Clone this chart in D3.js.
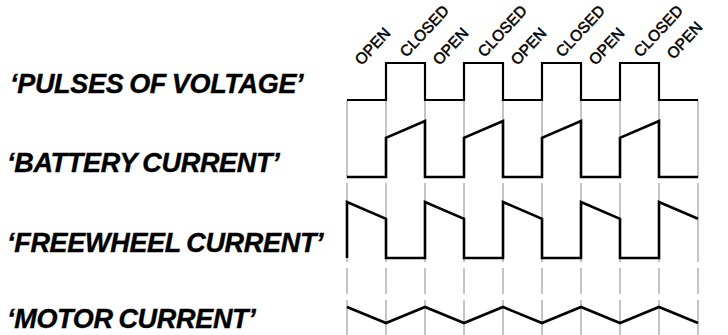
<!DOCTYPE html>
<html>
<head>
<meta charset="utf-8">
<script src="https://cdn.jsdelivr.net/npm/d3@7"></script>
<style>
  body { margin: 0; background: #fff; }
  svg { display: block; }
  .rowlabel { font-family: "Liberation Sans", Arial, sans-serif; font-weight: bold; font-style: italic; font-size: 27px; letter-spacing: -0.3px; word-spacing: -1.5px; fill: #000; stroke: #000; stroke-width: 0.4px; }
  .phase { font-family: "Liberation Sans", Arial, sans-serif; font-size: 15.5px; fill: #000; stroke: #000; stroke-width: 0.5px; }
</style>
</head>
<body>
<svg id="chart" width="728" height="335"></svg>
<script>
// phases of the switch
const phases = ["OPEN", "CLOSED", "OPEN", "CLOSED", "OPEN", "CLOSED", "OPEN", "CLOSED", "OPEN"];
const rowLabels = ["‘PULSES OF VOLTAGE’", "‘BATTERY CURRENT’", "‘FREEWHEEL CURRENT’", "‘MOTOR CURRENT’"];

// waveforms : [time, value]
const voltage = [[0,0],[1,0],[1,1],[2,1],[2,0],[3,0],[3,1],[4,1],[4,0],[5,0],[5,1],[6,1],[6,0],[7,0],[7,1],[8,1],[8,0],[9,0]];
const battery = [[0,0],[1,0],[1,0.7],[2,1],[2,0],[3,0],[3,0.7],[4,1],[4,0],[5,0],[5,0.7],[6,1],[6,0],[7,0],[7,0.7],[8,1],[8,0],[9,0]];
const freewheel = [[0,0],[0,1],[1,0.7],[1,0],[2,0],[2,1],[3,0.7],[3,0],[4,0],[4,1],[5,0.7],[5,0],[6,0],[6,1],[7,0.7],[7,0],[8,0],[8,1],[9,0.7]];
const motor = [[0,0.75],[1,0.25],[2,0.75],[3,0.25],[4,0.75],[5,0.25],[6,0.75],[7,0.25],[8,0.75],[9,0.25]];

let svg = d3.select("#chart");

let x = d3.scaleLinear().domain([0, phases.length]).range([347, 698]);

// une échelle verticale par ligne
let rows = [
  { data: voltage,   y: d3.scaleLinear().domain([0, 1]).range([100, 63]),  w: 2.2, baseline: 93 },
  { data: battery,   y: d3.scaleLinear().domain([0, 1]).range([177, 121]), w: 2.6, baseline: 172 },
  { data: freewheel, y: d3.scaleLinear().domain([0, 1]).range([258, 202]), w: 2.6, baseline: 252 },
  { data: motor,     y: d3.scaleLinear().domain([0, 1]).range([331, 299]), w: 2.6, baseline: 328 }
];

// traits verticaux gris (interrompus entre les lignes)
let segments = [[100, 178], [183, 262], [268, 294], [300, 335]];
let bounds = d3.range(phases.length + 1);
segments.forEach(function (s) {
  svg.append("g").selectAll("line")
    .data(bounds)
    .join("line")
    .attr("x1", d => x(d)).attr("x2", d => x(d))
    .attr("y1", s[0]).attr("y2", s[1])
    .attr("stroke", "#8a8a8a")
    .attr("stroke-width", 1);
});

// courbes
rows.forEach(function (r) {
  let line = d3.line().x(d => x(d[0])).y(d => r.y(d[1]));
  svg.append("path")
    .attr("d", line(r.data))
    .attr("fill", "none")
    .attr("stroke", "#000")
    .attr("stroke-width", r.w)
    .attr("stroke-linejoin", "miter");
});

// libellés des lignes
svg.selectAll(".rowlabel")
  .data(rowLabels)
  .join("text")
  .attr("class", "rowlabel")
  .attr("x", (d, i) => i == 0 ? 10 : 7)
  .attr("y", (d, i) => rows[i].baseline)
  .text(d => d);

// OPEN / CLOSED inclinés
svg.selectAll(".phase")
  .data(phases)
  .join("text")
  .attr("class", "phase")
  .attr("transform", function (d, i) {
    let cx = (x(i) + x(i + 1)) / 2;
    let px = d == "OPEN" ? cx - 5 : cx + 1;
    let py = d == "OPEN" ? (i == phases.length - 1 ? 60 : 66) : 58;
    return `translate(${px},${py}) rotate(-47)`;
  })
  .text(d => d);
</script>
</body>
</html>
